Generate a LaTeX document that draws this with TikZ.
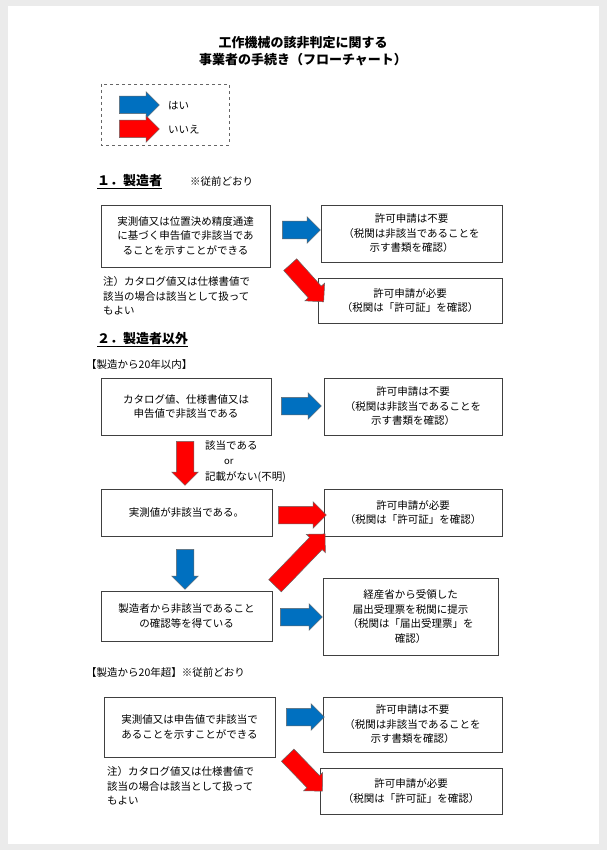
\documentclass[tikz,border=0pt]{standalone}
\usepackage{fontspec}
\setmainfont{Noto Sans CJK JP}
\usetikzlibrary{shapes.arrows}
\definecolor{ablue}{HTML}{0070C0}
\definecolor{ared}{HTML}{FF0000}
\tikzset{
  box/.style={draw=black!75,line width=0.8pt,align=center,font=\fontsize{10.5}{14.5}\selectfont,inner sep=2pt},
  txt/.style={align=left,anchor=west,font=\fontsize{10.5}{14.5}\selectfont,inner sep=0pt},
  fat/.style={single arrow,draw=black!60,line width=0.5pt,inner xsep=0pt,inner ysep=8.5pt,text height=0pt,text depth=0pt,text width=0pt,single arrow head extend=4.5pt,single arrow head indent=0pt,anchor=center},
  blu/.style={fat,fill=ablue},
  rd/.style={fat,fill=ared},
}
\newcommand{\bx}[6]{\node[box,minimum width=#4-#2,minimum height=#5-#3] (#1) at ({(#2+#4)/2},{(#3+#5)/2}) {#6};}
\begin{document}
\begin{tikzpicture}[x=1pt,y=-1pt]
\useasboundingbox (0,0) rectangle (607,850);
\fill[black!8] (0,0) rectangle (607,850);
\fill[white] (8,6) rectangle (599,844);
\node[font=\bfseries\fontsize{13}{17}\selectfont,align=center] (title) at (303,51) {工作機械の該非判定に関する\\事業者の手続き（フローチャート）};
% legend
\draw[dashed,black!60,line width=0.8pt] (101,84) rectangle (229,145);
\node[blu,minimum height=40pt] (lb) at (135,105) {};
\node[rd,minimum height=40pt] (lr) at (135,129) {};
\node[txt] (lbt) at (168,106) {はい};
\node[txt] (lrt) at (168,130) {いいえ};
% section 1
\node[txt,font=\bfseries\fontsize{13}{16}\selectfont] (s1) at (97,182) {\underline{１．製造者}};
\node[txt] (s1n) at (190,182) {※従前どおり};
\bx{A}{101}{205}{270}{267}{実測値又は位置決め精度通達\\に基づく申告値で非該当であ\\ることを示すことができる}
\bx{B}{321}{205}{502}{262}{許可申請は不要\\（税関は非該当であることを\\示す書類を確認）}
\bx{C}{318}{278}{502}{323}{許可申請が必要\\（税関は「許可証」を確認）}
\node[txt] (n1) at (103,296) {注）カタログ値又は仕様書値で\\該当の場合は該当として扱って\\もよい};
\node[blu,minimum height=38pt] (a1) at (297,230) {};
\node[rd,minimum height=50pt,rotate=-48] (a2) at (304,280) {};
% section 2
\node[txt,font=\bfseries\fontsize{13}{16}\selectfont] (s2) at (97,340) {\underline{２．製造者以外}};
\node[txt] (s2a) at (86,365) {【製造から20年以内】};
\bx{D}{101}{378}{271}{435}{カタログ値、仕様書値又は\\申告値で非該当である}
\bx{E}{324}{378}{502}{435}{許可申請は不要\\（税関は非該当であることを\\示す書類を確認）}
\node[blu,minimum height=40pt] (a3) at (297,406) {};
\node[rd,minimum height=44pt,rotate=-90] (a4) at (185,459) {};
\node[txt] (l4) at (205,446) {該当である};
\node[txt,font=\fontsize{9.5}{12}\selectfont] (l4b) at (224,462) {or};
\node[txt] (l4c) at (205,477) {記載がない(不明)};
\bx{F}{101}{489}{272}{536}{実測値が非該当である。}
\bx{G}{324}{489}{502}{536}{許可申請が必要\\（税関は「許可証」を確認）}
\node[rd,minimum height=48pt] (a5) at (298,515) {};
\node[blu,minimum height=40pt,rotate=-90] (a6) at (185,565) {};
\bx{H}{101}{591}{272}{641}{製造者から非該当であること\\の確認等を得ている}
\node[rd,minimum height=72pt,rotate=46] (a7) at (297,563) {};
\node[blu,minimum height=42pt] (a8) at (297,617) {};
\bx{I}{323}{578}{498}{655}{経産省から受領した\\届出受理票を税関に提示\\（税関は「届出受理票」を\\確認）}
% 20 years+
\node[txt] (s2b) at (86,673) {【製造から20年超】※従前どおり};
\bx{J}{104}{697}{275}{757}{実測値又は申告値で非該当で\\あることを示すことができる}
\bx{K}{323}{697}{502}{752}{許可申請は不要\\（税関は非該当であることを\\示す書類を確認）}
\bx{L}{320}{768}{502}{814}{許可申請が必要\\（税関は「許可証」を確認）}
\node[blu,minimum height=38pt] (a9) at (301,717) {};
\node[rd,minimum height=50pt,rotate=-46] (a10) at (302,770) {};
\node[txt] (n2) at (107,786) {注）カタログ値又は仕様書値で\\該当の場合は該当として扱って\\もよい};
\end{tikzpicture}
\end{document}
